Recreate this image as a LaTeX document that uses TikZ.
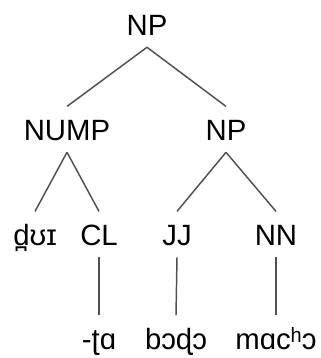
\documentclass[tikz,border=0pt]{standalone}
\usepackage{fontspec}
\setmainfont{Liberation Sans}
\usepackage{tikz}

\begin{document}
\begin{tikzpicture}[x=0.75pt, y=-0.75pt,
        lbl/.style ={font=\fontsize{22}{26}\selectfont, anchor=base,
                     text height=16pt, text depth=0pt,
                     inner xsep=2pt, inner ysep=9pt},
        br/.style  ={line width=1.1pt, color={rgb,255:red,80;green,80;blue,80}},]

    \useasboundingbox (0,0) rectangle (321,358);

    \node[lbl] (np)    at (147, 35)  {NP};
    \node[lbl] (nump)  at (67,  140) {NUMP};
    \node[lbl] (np2)   at (226, 140) {NP};

    \node[lbl] (dui)   at (35,  245) {d̪ʊɪ};
    \node[lbl] (cl)    at (99,  245) {CL};
    \node[lbl] (jj)    at (177, 245) {JJ};
    \node[lbl] (nn)    at (276, 245) {NN};

    \node[lbl] (ta)    at (99,  349) {-ʈɑ};
    \node[lbl] (bodo)  at (176, 349) {bɔɖɔ};
    \node[lbl] (macho) at (276, 349) {mɑcʰɔ};

    \draw[br] (np.south) -- (nump.north);
    \draw[br] (np.south) -- (np2.north);
    \draw[br] (nump.south) -- (dui.north);
    \draw[br] (nump.south) -- (cl.north);
    \draw[br] (np2.south) -- (jj.north);
    \draw[br] (np2.south) -- (nn.north);

    \draw[br] (cl.south) -- (ta.north);
    \draw[br] (jj.south) -- (bodo.north);
    \draw[br] (nn.south) -- (macho.north);
\end{tikzpicture}
\end{document}
